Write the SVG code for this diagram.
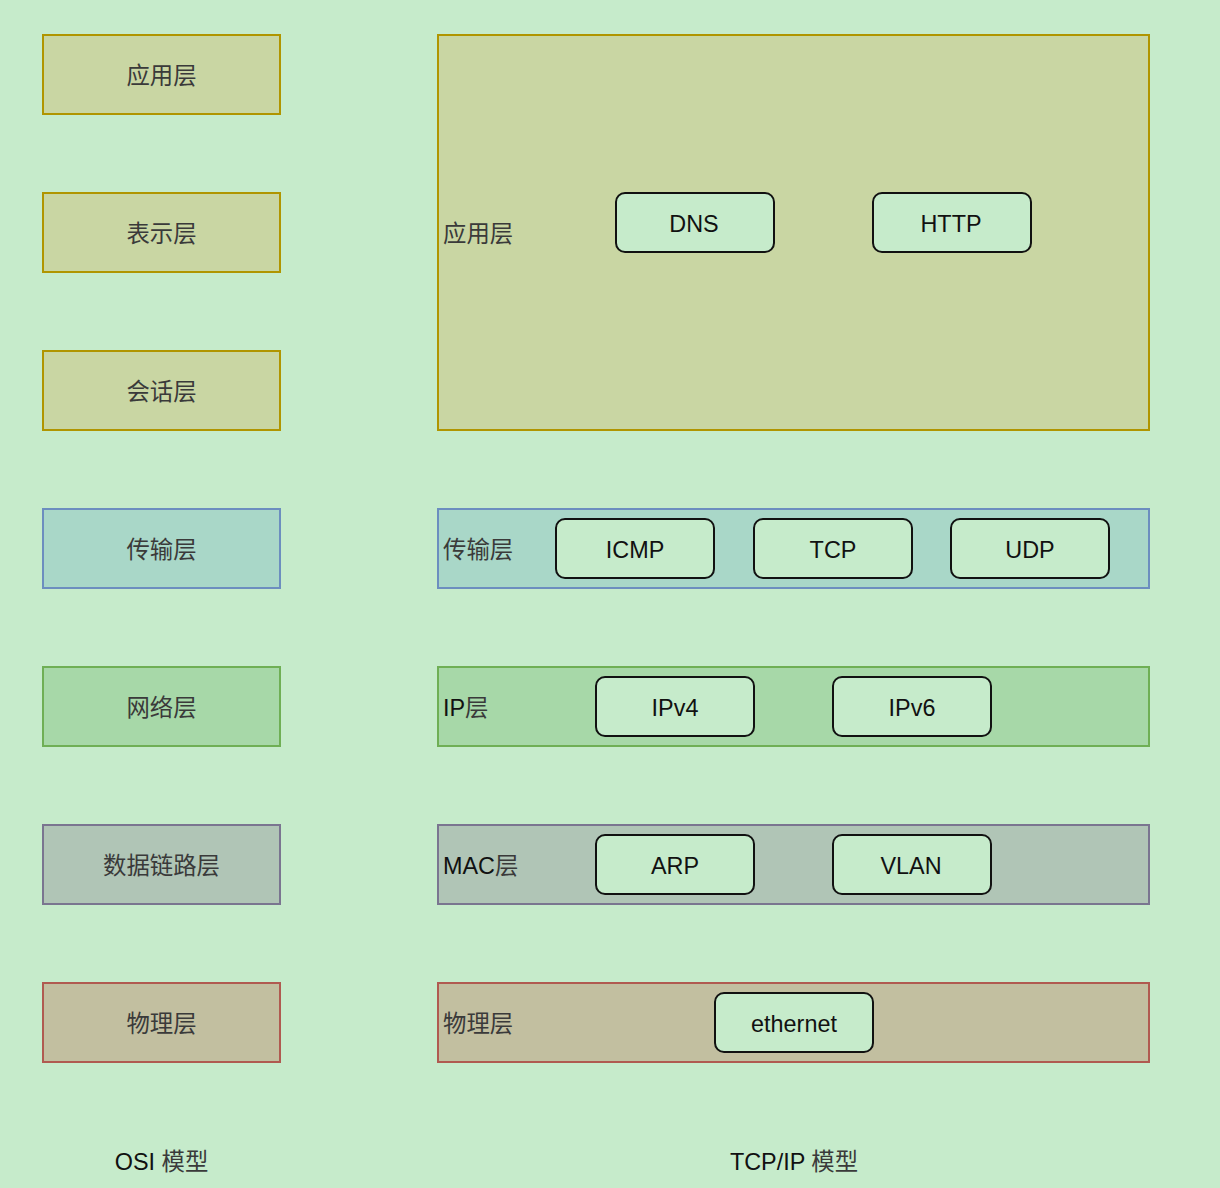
<svg xmlns="http://www.w3.org/2000/svg" width="1220" height="1188" viewBox="0 0 1220 1188">
<style>
.t{font-family:"Liberation Sans","Noto Sans CJK SC",sans-serif;font-size:23.4px;fill:#111;dominant-baseline:central}
.c{text-anchor:middle}
.zh{fill:#3a3a3a}
.app{fill:#C9D6A3;stroke:#B09500;stroke-width:2}
.tr{fill:#A9D7C8;stroke:#6C8EBF;stroke-width:2}
.net{fill:#A7D8A8;stroke:#6FAF55;stroke-width:2}
.dl{fill:#B0C5B6;stroke:#7A7590;stroke-width:2}
.ph{fill:#C2BFA0;stroke:#B05A50;stroke-width:2}
.p{fill:#C6EBCB;stroke:#111;stroke-width:2}
</style>
<rect x="0" y="0" width="1220" height="1188" fill="#C6EBCB"/>
<g id="osi-app"><rect class="app" x="43" y="35" width="237" height="79"/><text class="t c zh" x="161.5" y="76">应用层</text></g>
<g id="osi-pres"><rect class="app" x="43" y="193" width="237" height="79"/><text class="t c zh" x="161.5" y="234">表示层</text></g>
<g id="osi-sess"><rect class="app" x="43" y="351" width="237" height="79"/><text class="t c zh" x="161.5" y="392">会话层</text></g>
<g id="osi-trans"><rect class="tr" x="43" y="509" width="237" height="79"/><text class="t c zh" x="161.5" y="550">传输层</text></g>
<g id="osi-net"><rect class="net" x="43" y="667" width="237" height="79"/><text class="t c zh" x="161.5" y="708">网络层</text></g>
<g id="osi-dl"><rect class="dl" x="43" y="825" width="237" height="79"/><text class="t c zh" x="161.5" y="866">数据链路层</text></g>
<g id="osi-phy"><rect class="ph" x="43" y="983" width="237" height="79"/><text class="t c zh" x="161.5" y="1024">物理层</text></g>

<g id="tcp-app"><rect class="app" x="438" y="35" width="711" height="395"/><text class="t zh" x="443" y="234">应用层</text></g>
<g id="tcp-trans"><rect class="tr" x="438" y="509" width="711" height="79"/><text class="t zh" x="443" y="550">传输层</text></g>
<g id="tcp-ip"><rect class="net" x="438" y="667" width="711" height="79"/><text class="t" x="443" y="708">IP<tspan class="zh">层</tspan></text></g>
<g id="tcp-mac"><rect class="dl" x="438" y="825" width="711" height="79"/><text class="t" x="443" y="866">MAC<tspan class="zh">层</tspan></text></g>
<g id="tcp-phy"><rect class="ph" x="438" y="983" width="711" height="79"/><text class="t zh" x="443" y="1024">物理层</text></g>

<g id="dns"><rect class="p" x="616" y="193" width="158" height="59" rx="9"/><text class="t c" x="694" y="224">DNS</text></g>
<g id="http"><rect class="p" x="873" y="193" width="158" height="59" rx="9"/><text class="t c" x="951" y="224">HTTP</text></g>
<g id="icmp"><rect class="p" x="556" y="519" width="158" height="59" rx="9"/><text class="t c" x="635" y="550">ICMP</text></g>
<g id="tcp"><rect class="p" x="754" y="519" width="158" height="59" rx="9"/><text class="t c" x="833" y="550">TCP</text></g>
<g id="udp"><rect class="p" x="951" y="519" width="158" height="59" rx="9"/><text class="t c" x="1030" y="550">UDP</text></g>
<g id="ipv4"><rect class="p" x="596" y="677" width="158" height="59" rx="9"/><text class="t c" x="675" y="708">IPv4</text></g>
<g id="ipv6"><rect class="p" x="833" y="677" width="158" height="59" rx="9"/><text class="t c" x="912" y="708">IPv6</text></g>
<g id="arp"><rect class="p" x="596" y="835" width="158" height="59" rx="9"/><text class="t c" x="675" y="866">ARP</text></g>
<g id="vlan"><rect class="p" x="833" y="835" width="158" height="59" rx="9"/><text class="t c" x="911" y="866">VLAN</text></g>
<g id="ethernet"><rect class="p" x="715" y="993" width="158" height="59" rx="9"/><text class="t c" x="794" y="1024">ethernet</text></g>

<g id="labels">
<text class="t c" x="161.5" y="1162">OSI <tspan class="zh">模型</tspan></text>
<text class="t c" x="794" y="1162">TCP/IP <tspan class="zh">模型</tspan></text>
</g>
<g id="connectors"></g>
</svg>
